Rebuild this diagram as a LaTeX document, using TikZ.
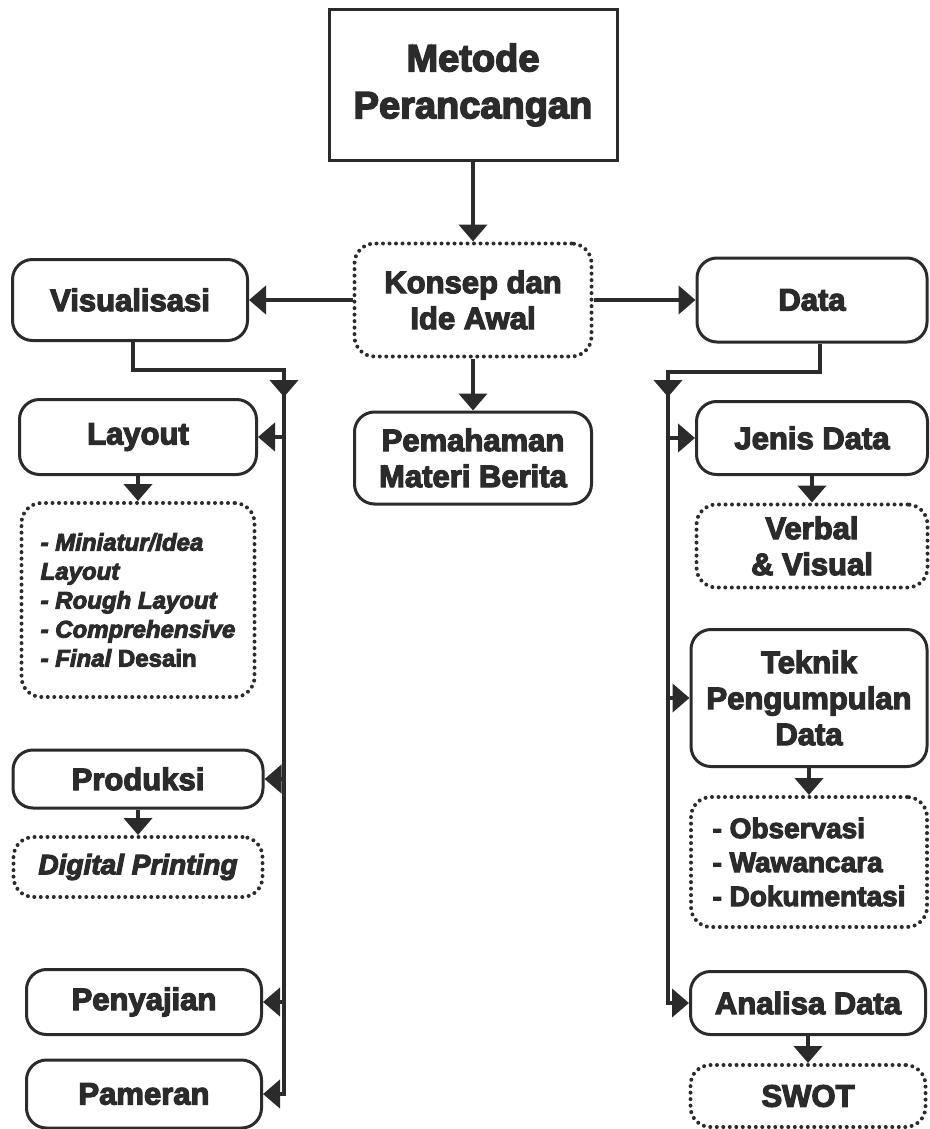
\documentclass[tikz,border=0pt]{standalone}
\usepackage{fontspec}
\setmainfont{Liberation Sans}[UprightFont={* Bold}, ItalicFont={* Bold Italic},
  BoldFont={* Bold}, BoldItalicFont={* Bold Italic}, FakeBold=4]
\usetikzlibrary{arrows.meta}
\definecolor{ink}{HTML}{2B2B2B}

\begin{document}
\begin{tikzpicture}[x=1pt, y=-1pt,
      every node/.style={align=center, text=ink, inner sep=0pt,
        font=\fontsize{31}{36}\selectfont},
      box/.style={draw=ink, line width=3pt, rounded corners=20pt},
      dotbox/.style={box, line width=4pt, dash pattern=on 0pt off 6.5pt, line cap=round},
      link/.style={draw=ink, line width=4.5pt, -{Triangle[width=28pt,length=17pt]}}]
  \useasboundingbox (0,0) rectangle (929,1129);
  \node (metode) at (473,85) [draw=ink, line width=3pt, minimum width=288pt, minimum height=150pt,
        font=\fontsize{38}{47}\selectfont] {Metode\\Perancangan};
  \node (konsep) at (473,300) [dotbox, minimum width=237pt, minimum height=113pt] {Konsep dan\\Ide Awal};
  \node (pemahaman) at (473,458) [box, minimum width=237pt, minimum height=92pt] {Pemahaman\\Materi Berita};
  \node (visual) at (130,300) [box, minimum width=235pt, minimum height=81pt] {Visualisasi};
  \node (data) at (812,300) [box, minimum width=230pt, minimum height=84pt] {Data};
  \node (layout) at (138,437) [box, minimum width=237pt, minimum height=75pt] {Layout};
  \node (tahap) at (138,600) [dotbox, minimum width=233pt, minimum height=194pt, align=left,
        font=\itshape\fontsize{24}{29}\selectfont]
        {- Miniatur/Idea\\Layout\\- Rough Layout\\- Comprehensive\\- Final {\upshape Desain}};
  \node (produksi) at (138,779) [box, minimum width=250pt, minimum height=58pt] {Produksi};
  \node (printing) at (138,867) [dotbox, minimum width=249pt, minimum height=60pt,
        font=\itshape\fontsize{28}{34}\selectfont] {Digital Printing};
  \node (penyajian) at (144,1002) [box, minimum width=235pt, minimum height=65pt] {Penyajian};
  \node (pameran) at (144,1094) [box, minimum width=235pt, minimum height=68pt] {Pameran};
  \node (jenis) at (812,438) [box, minimum width=231pt, minimum height=73pt] {Jenis Data};
  \node (verbal) at (812,546) [dotbox, minimum width=231pt, minimum height=83pt] {Verbal\\\& Visual};
  \node (teknik) at (809,698) [box, minimum width=236pt, minimum height=137pt] {Teknik\\Pengumpulan\\Data};
  \node (observasi) at (809,862) [dotbox, minimum width=236pt, minimum height=130pt, align=left,
        font=\fontsize{28}{34}\selectfont] {- Observasi\\- Wawancara\\- Dokumentasi};
  \node (analisa) at (808,1003) [box, minimum width=235pt, minimum height=63pt] {Analisa Data};
  \node (swot) at (808,1096) [dotbox, minimum width=235pt, minimum height=62pt] {SWOT};

  \draw[link] (metode) -- (konsep);
  \draw[link] (konsep) -- (pemahaman);
  \draw[link] (konsep) -- (visual);
  \draw[link] (konsep) -- (data);

  \coordinate (lefttop) at (284,370);
  \draw[link] ([xshift=3pt]visual.south) |- (lefttop) -- ++(0,27);
  \draw[link] (lefttop) |- (pameran);
  \foreach \n in {layout, produksi, penyajian}
    \draw[link] (lefttop |- \n) -- (\n);
  \draw[link] (layout) -- (tahap);
  \draw[link] (produksi) -- (printing);

  \coordinate (righttop) at (668,372);
  \draw[link] ([xshift=8pt]data.south) |- (righttop) -- ++(0,25);
  \draw[link] (righttop) |- (analisa);
  \foreach \n in {jenis, teknik}
    \draw[link] (righttop |- \n) -- (\n);
  \draw[link] (jenis) -- (verbal);
  \draw[link] (teknik) -- (observasi);
  \draw[link] (analisa) -- (swot);
\end{tikzpicture}
\end{document}
